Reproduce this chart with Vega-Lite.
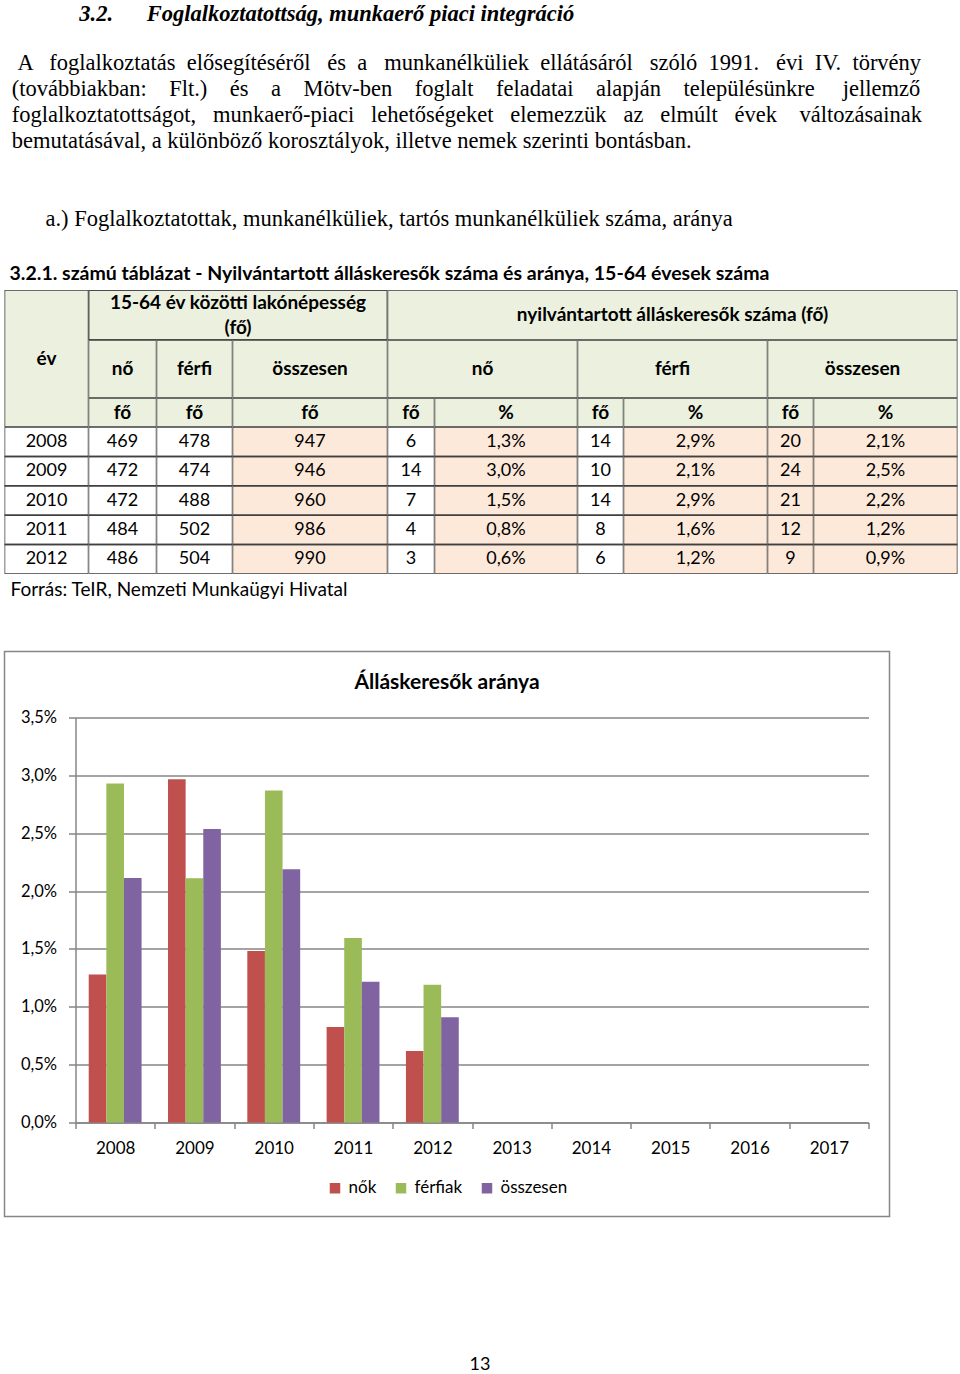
{
  "$schema": "https://vega.github.io/schema/vega-lite/v6.json",
  "padding": {"left": 3.5, "top": 2, "right": 3, "bottom": 0},
  "background": "white",
  "datasets": {
    "t": [
      {"ev": "2008", "pn": "469", "pf": "478", "po": "947", "nf": "6", "np": "1,3%", "ff": "14", "fp": "2,9%", "of": "20", "op": "2,1%"},
      {"ev": "2009", "pn": "472", "pf": "474", "po": "946", "nf": "14", "np": "3,0%", "ff": "10", "fp": "2,1%", "of": "24", "op": "2,5%"},
      {"ev": "2010", "pn": "472", "pf": "488", "po": "960", "nf": "7", "np": "1,5%", "ff": "14", "fp": "2,9%", "of": "21", "op": "2,2%"},
      {"ev": "2011", "pn": "484", "pf": "502", "po": "986", "nf": "4", "np": "0,8%", "ff": "8", "fp": "1,6%", "of": "12", "op": "1,2%"},
      {"ev": "2012", "pn": "486", "pf": "504", "po": "990", "nf": "3", "np": "0,6%", "ff": "6", "fp": "1,2%", "of": "9", "op": "0,9%"}
    ],
    "d": [
      {"ev": "2008", "s": "nők", "v": 1.279},
      {"ev": "2009", "s": "nők", "v": 2.966},
      {"ev": "2010", "s": "nők", "v": 1.483},
      {"ev": "2011", "s": "nők", "v": 0.826},
      {"ev": "2012", "s": "nők", "v": 0.617},
      {"ev": "2008", "s": "férfiak", "v": 2.929},
      {"ev": "2009", "s": "férfiak", "v": 2.110},
      {"ev": "2010", "s": "férfiak", "v": 2.869},
      {"ev": "2011", "s": "férfiak", "v": 1.594},
      {"ev": "2012", "s": "férfiak", "v": 1.190},
      {"ev": "2008", "s": "összesen", "v": 2.112},
      {"ev": "2009", "s": "összesen", "v": 2.537},
      {"ev": "2010", "s": "összesen", "v": 2.188},
      {"ev": "2011", "s": "összesen", "v": 1.217},
      {"ev": "2012", "s": "összesen", "v": 0.909}
    ]
  },
  "title": {
    "text": "\u200b\u00a0\u00a0\u00a0\u00a0\u00a0\u00a0\u00a0\u00a0\u00a0\u00a0\u00a0\u00a03.2.\u00a0\u00a0\u00a0\u00a0\u00a0\u00a0Foglalkoztatottság, munkaerő piaci integráció",
    "subtitle": [
      "\u200b\u00a0A \u00a0\u00a0foglalkoztatás \u00a0elősegítéséről \u00a0\u00a0és \u00a0a \u00a0\u00a0munkanélküliek \u00a0ellátásáról \u00a0\u00a0szóló \u00a01991. \u00a0\u00a0évi \u00a0IV. \u00a0törvény",
      "(továbbiakban: \u00a0\u00a0\u00a0Flt.) \u00a0\u00a0\u00a0és \u00a0\u00a0\u00a0a \u00a0\u00a0\u00a0Mötv-ben \u00a0\u00a0\u00a0foglalt \u00a0\u00a0\u00a0feladatai \u00a0\u00a0\u00a0alapján \u00a0\u00a0\u00a0településünkre \u00a0\u00a0\u00a0\u00a0jellemző",
      "foglalkoztatottságot, \u00a0\u00a0munkaerő-piaci \u00a0\u00a0lehetőségeket \u00a0\u00a0elemezzük \u00a0\u00a0az \u00a0\u00a0elmúlt \u00a0\u00a0évek \u00a0\u00a0\u00a0változásainak",
      "bemutatásával, a különböző korosztályok, illetve nemek szerinti bontásban.",
      "\u200b",
      "\u200b",
      "\u200b\u00a0\u00a0\u00a0\u00a0\u00a0\u00a0a.) Foglalkoztatottak, munkanélküliek, tartós munkanélküliek száma, aránya"
    ],
    "anchor": "start",
    "dx": 8,
    "offset": 33,
    "font": "Liberation Serif",
    "fontSize": 22.5,
    "fontStyle": "italic",
    "fontWeight": "bold",
    "color": "#000",
    "subtitleFont": "Liberation Serif",
    "subtitleFontSize": 22.5,
    "subtitleColor": "#000",
    "subtitleLineHeight": 26,
    "subtitlePadding": 26.7
  },
  "spacing": 50.5,
  "vconcat": [
    {
      "title": {"text": "3.2.1. számú táblázat - Nyilvántartott álláskeresők száma és aránya, 15-64 évesek száma", "anchor": "start", "dx": 5, "offset": 6, "font": "Lato", "fontSize": 19.5, "fontWeight": "bold", "color": "#000"},
      "vconcat": [
        {
          "title": {"text": "Forrás: TeIR, Nemzeti Munkaügyi Hivatal", "orient": "bottom", "anchor": "start", "dx": 6, "offset": 6.5, "font": "Lato", "fontSize": 19, "fontWeight": "normal", "color": "#000"},
          "spacing": 0,
          "hconcat": [
            {
              "spacing": 0,
              "vconcat": [
                {"width": 84, "height": 137, "view": {"fill": "#EBF1DE", "stroke": null}, "data": {"values": [{"t": "év"}]},
                 "layer": [
                   {"mark": {"type": "rect", "fill": "transparent", "stroke": "#404040", "strokeWidth": 1.5, "clip": true}},
                   {"mark": {"type": "text", "fontWeight": "bold", "fontSize": 19}, "encoding": {"text": {"field": "t", "type": "nominal"}}}
                 ]},
                {"width": 84, "height": 147, "view": {"fill": "white", "stroke": null}, "data": {"name": "t"},
                 "encoding": {"y": {"field": "ev", "type": "ordinal", "axis": null, "scale": {"type": "band", "paddingInner": 0, "paddingOuter": 0}}},
                 "layer": [
                   {"mark": {"type": "rect", "fill": "transparent", "stroke": "#404040", "strokeWidth": 1.5, "clip": true}},
                   {"mark": {"type": "text"}, "encoding": {"text": {"field": "ev", "type": "nominal"}}}
                 ]}
              ]
            },
            {
              "spacing": 0,
              "vconcat": [
                {
                  "spacing": 0,
                  "hconcat": [
                    {"width": 299, "height": 50, "view": {"fill": "#EBF1DE", "stroke": null}, "data": {"values": [{"t": "15-64 év közötti lakónépesség", "r": 1}, {"t": "(fő)", "r": 2}]},
                     "layer": [
                       {"mark": {"type": "rect", "fill": "transparent", "stroke": "#404040", "strokeWidth": 1.5, "clip": true}},
                       {"mark": {"type": "text", "fontWeight": "bold", "fontSize": 19}, "encoding": {"y": {"field": "r", "type": "ordinal", "axis": null, "scale": {"type": "band", "paddingInner": 0, "paddingOuter": 0}}, "text": {"field": "t", "type": "nominal"}}}
                     ]},
                    {"width": 570, "height": 50, "view": {"fill": "#EBF1DE", "stroke": null}, "data": {"values": [{"t": "nyilvántartott álláskeresők száma (fő)"}]},
                     "layer": [
                       {"mark": {"type": "rect", "fill": "transparent", "stroke": "#404040", "strokeWidth": 1.5, "clip": true}},
                       {"mark": {"type": "text", "fontWeight": "bold", "fontSize": 19}, "encoding": {"text": {"field": "t", "type": "nominal"}}}
                     ]}
                  ]
                },
                {
                  "spacing": 0,
                  "hconcat": [
                    {"width": 68, "height": 58, "view": {"fill": "#EBF1DE", "stroke": null}, "data": {"values": [{"t": "nő"}]},
                     "layer": [{"mark": {"type": "rect", "fill": "transparent", "stroke": "#404040", "strokeWidth": 1.5, "clip": true}}, {"mark": {"type": "text", "fontWeight": "bold", "fontSize": 19}, "encoding": {"text": {"field": "t", "type": "nominal"}}}]},
                    {"width": 76, "height": 58, "view": {"fill": "#EBF1DE", "stroke": null}, "data": {"values": [{"t": "férfi"}]},
                     "layer": [{"mark": {"type": "rect", "fill": "transparent", "stroke": "#404040", "strokeWidth": 1.5, "clip": true}}, {"mark": {"type": "text", "fontWeight": "bold", "fontSize": 19}, "encoding": {"text": {"field": "t", "type": "nominal"}}}]},
                    {"width": 155, "height": 58, "view": {"fill": "#EBF1DE", "stroke": null}, "data": {"values": [{"t": "összesen"}]},
                     "layer": [{"mark": {"type": "rect", "fill": "transparent", "stroke": "#404040", "strokeWidth": 1.5, "clip": true}}, {"mark": {"type": "text", "fontWeight": "bold", "fontSize": 19}, "encoding": {"text": {"field": "t", "type": "nominal"}}}]},
                    {"width": 190, "height": 58, "view": {"fill": "#EBF1DE", "stroke": null}, "data": {"values": [{"t": "nő"}]},
                     "layer": [{"mark": {"type": "rect", "fill": "transparent", "stroke": "#404040", "strokeWidth": 1.5, "clip": true}}, {"mark": {"type": "text", "fontWeight": "bold", "fontSize": 19}, "encoding": {"text": {"field": "t", "type": "nominal"}}}]},
                    {"width": 190, "height": 58, "view": {"fill": "#EBF1DE", "stroke": null}, "data": {"values": [{"t": "férfi"}]},
                     "layer": [{"mark": {"type": "rect", "fill": "transparent", "stroke": "#404040", "strokeWidth": 1.5, "clip": true}}, {"mark": {"type": "text", "fontWeight": "bold", "fontSize": 19}, "encoding": {"text": {"field": "t", "type": "nominal"}}}]},
                    {"width": 190, "height": 58, "view": {"fill": "#EBF1DE", "stroke": null}, "data": {"values": [{"t": "összesen"}]},
                     "layer": [{"mark": {"type": "rect", "fill": "transparent", "stroke": "#404040", "strokeWidth": 1.5, "clip": true}}, {"mark": {"type": "text", "fontWeight": "bold", "fontSize": 19}, "encoding": {"text": {"field": "t", "type": "nominal"}}}]}
                  ]
                },
                {
                  "spacing": 0,
                  "hconcat": [
                    {"width": 68, "height": 29, "view": {"fill": "#EBF1DE", "stroke": null}, "data": {"values": [{"t": "fő"}]},
                     "layer": [{"mark": {"type": "rect", "fill": "transparent", "stroke": "#404040", "strokeWidth": 1.5, "clip": true}}, {"mark": {"type": "text", "fontWeight": "bold", "fontSize": 19}, "encoding": {"text": {"field": "t", "type": "nominal"}}}]},
                    {"width": 76, "height": 29, "view": {"fill": "#EBF1DE", "stroke": null}, "data": {"values": [{"t": "fő"}]},
                     "layer": [{"mark": {"type": "rect", "fill": "transparent", "stroke": "#404040", "strokeWidth": 1.5, "clip": true}}, {"mark": {"type": "text", "fontWeight": "bold", "fontSize": 19}, "encoding": {"text": {"field": "t", "type": "nominal"}}}]},
                    {"width": 155, "height": 29, "view": {"fill": "#EBF1DE", "stroke": null}, "data": {"values": [{"t": "fő"}]},
                     "layer": [{"mark": {"type": "rect", "fill": "transparent", "stroke": "#404040", "strokeWidth": 1.5, "clip": true}}, {"mark": {"type": "text", "fontWeight": "bold", "fontSize": 19}, "encoding": {"text": {"field": "t", "type": "nominal"}}}]},
                    {"width": 47, "height": 29, "view": {"fill": "#EBF1DE", "stroke": null}, "data": {"values": [{"t": "fő"}]},
                     "layer": [{"mark": {"type": "rect", "fill": "transparent", "stroke": "#404040", "strokeWidth": 1.5, "clip": true}}, {"mark": {"type": "text", "fontWeight": "bold", "fontSize": 19}, "encoding": {"text": {"field": "t", "type": "nominal"}}}]},
                    {"width": 143, "height": 29, "view": {"fill": "#EBF1DE", "stroke": null}, "data": {"values": [{"t": "%"}]},
                     "layer": [{"mark": {"type": "rect", "fill": "transparent", "stroke": "#404040", "strokeWidth": 1.5, "clip": true}}, {"mark": {"type": "text", "fontWeight": "bold", "fontSize": 19}, "encoding": {"text": {"field": "t", "type": "nominal"}}}]},
                    {"width": 46, "height": 29, "view": {"fill": "#EBF1DE", "stroke": null}, "data": {"values": [{"t": "fő"}]},
                     "layer": [{"mark": {"type": "rect", "fill": "transparent", "stroke": "#404040", "strokeWidth": 1.5, "clip": true}}, {"mark": {"type": "text", "fontWeight": "bold", "fontSize": 19}, "encoding": {"text": {"field": "t", "type": "nominal"}}}]},
                    {"width": 144, "height": 29, "view": {"fill": "#EBF1DE", "stroke": null}, "data": {"values": [{"t": "%"}]},
                     "layer": [{"mark": {"type": "rect", "fill": "transparent", "stroke": "#404040", "strokeWidth": 1.5, "clip": true}}, {"mark": {"type": "text", "fontWeight": "bold", "fontSize": 19}, "encoding": {"text": {"field": "t", "type": "nominal"}}}]},
                    {"width": 46, "height": 29, "view": {"fill": "#EBF1DE", "stroke": null}, "data": {"values": [{"t": "fő"}]},
                     "layer": [{"mark": {"type": "rect", "fill": "transparent", "stroke": "#404040", "strokeWidth": 1.5, "clip": true}}, {"mark": {"type": "text", "fontWeight": "bold", "fontSize": 19}, "encoding": {"text": {"field": "t", "type": "nominal"}}}]},
                    {"width": 144, "height": 29, "view": {"fill": "#EBF1DE", "stroke": null}, "data": {"values": [{"t": "%"}]},
                     "layer": [{"mark": {"type": "rect", "fill": "transparent", "stroke": "#404040", "strokeWidth": 1.5, "clip": true}}, {"mark": {"type": "text", "fontWeight": "bold", "fontSize": 19}, "encoding": {"text": {"field": "t", "type": "nominal"}}}]}
                  ]
                },
                {
                  "spacing": 0,
                  "hconcat": [
                    {"width": 68, "height": 147, "view": {"fill": "white", "stroke": null}, "data": {"name": "t"},
                     "encoding": {"y": {"field": "ev", "type": "ordinal", "axis": null, "scale": {"type": "band", "paddingInner": 0, "paddingOuter": 0}}},
                     "layer": [{"mark": {"type": "rect", "fill": "transparent", "stroke": "#404040", "strokeWidth": 1.5, "clip": true}}, {"mark": {"type": "text"}, "encoding": {"text": {"field": "pn", "type": "nominal"}}}]},
                    {"width": 76, "height": 147, "view": {"fill": "white", "stroke": null}, "data": {"name": "t"},
                     "encoding": {"y": {"field": "ev", "type": "ordinal", "axis": null, "scale": {"type": "band", "paddingInner": 0, "paddingOuter": 0}}},
                     "layer": [{"mark": {"type": "rect", "fill": "transparent", "stroke": "#404040", "strokeWidth": 1.5, "clip": true}}, {"mark": {"type": "text"}, "encoding": {"text": {"field": "pf", "type": "nominal"}}}]},
                    {"width": 155, "height": 147, "view": {"fill": "#FDE9D9", "stroke": null}, "data": {"name": "t"},
                     "encoding": {"y": {"field": "ev", "type": "ordinal", "axis": null, "scale": {"type": "band", "paddingInner": 0, "paddingOuter": 0}}},
                     "layer": [{"mark": {"type": "rect", "fill": "transparent", "stroke": "#404040", "strokeWidth": 1.5, "clip": true}}, {"mark": {"type": "text"}, "encoding": {"text": {"field": "po", "type": "nominal"}}}]},
                    {"width": 47, "height": 147, "view": {"fill": "white", "stroke": null}, "data": {"name": "t"},
                     "encoding": {"y": {"field": "ev", "type": "ordinal", "axis": null, "scale": {"type": "band", "paddingInner": 0, "paddingOuter": 0}}},
                     "layer": [{"mark": {"type": "rect", "fill": "transparent", "stroke": "#404040", "strokeWidth": 1.5, "clip": true}}, {"mark": {"type": "text"}, "encoding": {"text": {"field": "nf", "type": "nominal"}}}]},
                    {"width": 143, "height": 147, "view": {"fill": "#FDE9D9", "stroke": null}, "data": {"name": "t"},
                     "encoding": {"y": {"field": "ev", "type": "ordinal", "axis": null, "scale": {"type": "band", "paddingInner": 0, "paddingOuter": 0}}},
                     "layer": [{"mark": {"type": "rect", "fill": "transparent", "stroke": "#404040", "strokeWidth": 1.5, "clip": true}}, {"mark": {"type": "text"}, "encoding": {"text": {"field": "np", "type": "nominal"}}}]},
                    {"width": 46, "height": 147, "view": {"fill": "white", "stroke": null}, "data": {"name": "t"},
                     "encoding": {"y": {"field": "ev", "type": "ordinal", "axis": null, "scale": {"type": "band", "paddingInner": 0, "paddingOuter": 0}}},
                     "layer": [{"mark": {"type": "rect", "fill": "transparent", "stroke": "#404040", "strokeWidth": 1.5, "clip": true}}, {"mark": {"type": "text"}, "encoding": {"text": {"field": "ff", "type": "nominal"}}}]},
                    {"width": 144, "height": 147, "view": {"fill": "#FDE9D9", "stroke": null}, "data": {"name": "t"},
                     "encoding": {"y": {"field": "ev", "type": "ordinal", "axis": null, "scale": {"type": "band", "paddingInner": 0, "paddingOuter": 0}}},
                     "layer": [{"mark": {"type": "rect", "fill": "transparent", "stroke": "#404040", "strokeWidth": 1.5, "clip": true}}, {"mark": {"type": "text"}, "encoding": {"text": {"field": "fp", "type": "nominal"}}}]},
                    {"width": 46, "height": 147, "view": {"fill": "#FDE9D9", "stroke": null}, "data": {"name": "t"},
                     "encoding": {"y": {"field": "ev", "type": "ordinal", "axis": null, "scale": {"type": "band", "paddingInner": 0, "paddingOuter": 0}}},
                     "layer": [{"mark": {"type": "rect", "fill": "transparent", "stroke": "#404040", "strokeWidth": 1.5, "clip": true}}, {"mark": {"type": "text"}, "encoding": {"text": {"field": "of", "type": "nominal"}}}]},
                    {"width": 144, "height": 147, "view": {"fill": "#FDE9D9", "stroke": null}, "data": {"name": "t"},
                     "encoding": {"y": {"field": "ev", "type": "ordinal", "axis": null, "scale": {"type": "band", "paddingInner": 0, "paddingOuter": 0}}},
                     "layer": [{"mark": {"type": "rect", "fill": "transparent", "stroke": "#404040", "strokeWidth": 1.5, "clip": true}}, {"mark": {"type": "text"}, "encoding": {"text": {"field": "op", "type": "nominal"}}}]}
                  ]
                }
              ]
            }
          ]
        }
      ]
    },
    {
      "title": {"text": "13", "orient": "bottom", "anchor": "middle", "baseline": "middle", "dx": 33, "offset": 148, "font": "Lato", "fontSize": 18, "fontWeight": "normal", "color": "#000"},
      "resolve": {"scale": {"color": "independent"}, "legend": {"color": "independent"}},
      "vconcat": [
        {
          "width": 885,
          "height": 565,
          "view": {"stroke": "#868686", "strokeWidth": 1.5, "fill": "white"},
          "title": {"text": "Álláskeresők aránya", "anchor": "middle", "frame": "group", "offset": 0, "dy": 41, "font": "Lato", "fontSize": 21, "fontWeight": "bold", "color": "#000"},
          "data": {"name": "d"},
          "mark": {"type": "bar"},
          "encoding": {
            "x": {
              "field": "ev", "type": "ordinal",
              "scale": {"domain": ["2008", "2009", "2010", "2011", "2012", "2013", "2014", "2015", "2016", "2017"], "range": [71, 864], "paddingInner": 0, "paddingOuter": 0},
              "axis": {"title": null, "offset": -94, "tickBand": "extent", "ticks": true, "tickSize": 6, "tickColor": "#868686", "tickWidth": 1.5, "domain": true, "domainColor": "#868686", "domainWidth": 1.5, "grid": false, "labelAngle": 0, "labelFont": "Lato", "labelFontSize": 17, "labelColor": "#000", "labelPadding": 12}
            },
            "xOffset": {"field": "s", "type": "nominal", "scale": {"domain": ["nők", "férfiak", "összesen"], "paddingInner": 0, "paddingOuter": 0.75}},
            "y": {
              "field": "v", "type": "quantitative",
              "scale": {"domain": [0, 3.5], "range": [471, 66], "nice": false},
              "axis": {"title": null, "offset": -71, "values": [0, 0.5, 1, 1.5, 2, 2.5, 3, 3.5], "labelExpr": "replace(format(datum.value, '.1f'), '.', ',') + '%'", "grid": true, "gridColor": "#868686", "gridWidth": 1.3, "domain": true, "domainColor": "#868686", "domainWidth": 1.5, "ticks": true, "tickSize": 7, "tickColor": "#868686", "tickWidth": 1.5, "labelFont": "Lato", "labelFontSize": 16.5, "labelColor": "#000", "labelPadding": 12}
            },
            "color": {
              "field": "s", "type": "nominal",
              "scale": {"domain": ["nők", "férfiak", "összesen"], "range": ["#C0504D", "#9BBB59", "#8064A2"]},
              "legend": {"title": null, "orient": "bottom", "direction": "horizontal", "offset": -37, "padding": 0, "symbolType": "square", "symbolSize": 110, "symbolStrokeWidth": 0, "labelFont": "Lato", "labelFontSize": 17, "labelColor": "#000", "labelOffset": 5, "columnPadding": 16}
            }
          }
        }
      ]
    }
  ],
  "config": {
    "view": {"stroke": null},
    "text": {"font": "Lato", "fontSize": 18, "color": "#000"},
    "legend": {"layout": {"bottom": {"anchor": "middle"}}},
    "concat": {"spacing": 0}
  }
}
